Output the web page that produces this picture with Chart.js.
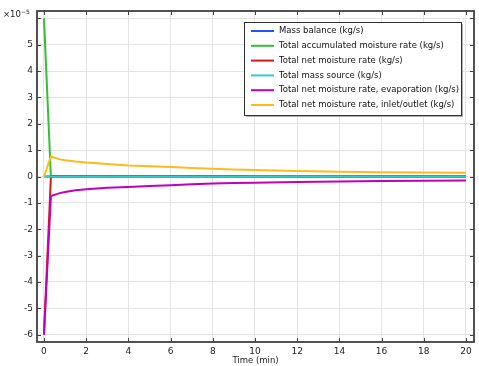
<!DOCTYPE html>
<html>
<head>
<meta charset="utf-8">
<script src="https://cdn.jsdelivr.net/npm/chart.js@4"></script>
<style>html,body{margin:0;padding:0;background:#fff}</style>
</head>
<body>
<canvas id="chart" width="479" height="366"></canvas>
<script>
// time (min) and series values in units of 1e-5 kg/s
const timeMin = [0, 0.33, 0.75, 1, 1.5, 2, 3, 4, 5, 6, 7, 8, 9, 10, 12, 14, 16, 18, 20];
const massBalance = [0, 0, 0, 0, 0, 0, 0, 0, 0, 0, 0, 0, 0, 0, 0, 0, 0, 0, 0];
const accumulated = [6.0, -0.02, -0.02, -0.02, -0.02, -0.02, -0.02, -0.02, -0.02, -0.02, -0.02, -0.02, -0.02, -0.02, -0.02, -0.02, -0.02, -0.02, -0.02];
const netMoisture = [-6.0, 0.02, 0.02, 0.02, 0.02, 0.02, 0.02, 0.02, 0.02, 0.02, 0.02, 0.02, 0.02, 0.01, 0.01, 0.01, 0.01, 0.01, 0.01];
const massSource = [0, 0, 0, 0, 0, 0, 0, 0, 0, 0, 0, 0, 0, 0, 0, 0, 0, 0, 0];
const evaporation = [-6.0, -0.74, -0.63, -0.59, -0.52, -0.48, -0.43, -0.40, -0.36, -0.33, -0.29, -0.27, -0.25, -0.24, -0.21, -0.19, -0.17, -0.16, -0.15];
const inletOutlet = [0, 0.76, 0.65, 0.62, 0.57, 0.53, 0.47, 0.42, 0.39, 0.36, 0.32, 0.29, 0.27, 0.25, 0.21, 0.18, 0.16, 0.15, 0.14];

const seriesNames = [
  'Mass balance (kg/s)',
  'Total accumulated moisture rate (kg/s)',
  'Total net moisture rate (kg/s)',
  'Total mass source (kg/s)',
  'Total net moisture rate, evaporation (kg/s)',
  'Total net moisture rate, inlet/outlet (kg/s)'
];
const seriesColors = ['#2a4fff', '#33c033', '#d41a1a', '#33cccc', '#c000c0', '#ffbb1a'];
const xTicks = [0, 2, 4, 6, 8, 10, 12, 14, 16, 18, 20];
const yTicks = [-6, -5, -4, -3, -2, -1, 0, 1, 2, 3, 4, 5, 6];

const FONT = 'DejaVu Sans';
const allSeries = [massBalance, accumulated, netMoisture, massSource, evaporation, inletOutlet];

const datasets = allSeries.map((vals, i) => ({
  label: seriesNames[i],
  data: timeMin.map((t, k) => ({ x: t, y: vals[k] })),
  borderColor: seriesColors[i],
  backgroundColor: seriesColors[i],
  borderWidth: 2,
  pointRadius: 0,
  tension: 0,
  fill: false,
  order: allSeries.length - i
}));

// frame box, inward ticks, exponent label and legend
const decorations = {
  id: 'decorations',
  afterDatasetsDraw(chart) {
    const { ctx, chartArea: a, scales } = chart;
    ctx.save();
    ctx.strokeStyle = '#404040';
    ctx.lineWidth = 1;
    xTicks.forEach(v => {
      const px = Math.round(scales.x.getPixelForValue(v)) + 0.5;
      ctx.beginPath();
      ctx.moveTo(px, a.bottom); ctx.lineTo(px, a.bottom - 4);
      ctx.moveTo(px, a.top); ctx.lineTo(px, a.top + 4);
      ctx.stroke();
    });
    yTicks.forEach(v => {
      const py = Math.round(scales.y.getPixelForValue(v)) + 0.5;
      ctx.beginPath();
      ctx.moveTo(a.left, py); ctx.lineTo(a.left + 4, py);
      ctx.moveTo(a.right, py); ctx.lineTo(a.right - 4, py);
      ctx.stroke();
    });
    ctx.lineWidth = 1.8;
    ctx.strokeRect(a.left, a.top, a.right - a.left, a.bottom - a.top);

    // exponent
    ctx.fillStyle = '#222';
    ctx.textBaseline = 'middle';
    ctx.font = '8.5px "' + FONT + '"';
    ctx.fillText('×10', 3, 15);
    const w = ctx.measureText('×10').width;
    ctx.font = '6px "' + FONT + '"';
    ctx.fillText('−5', 3 + w, 12);

    // legend
    const lx = 244, ly = 22, lw = 217, lh = 93;
    ctx.fillStyle = '#b0b0b0';
    ctx.fillRect(lx + 2, ly + 2, lw, lh);
    ctx.fillStyle = '#fff';
    ctx.fillRect(lx, ly, lw, lh);
    ctx.strokeStyle = '#303030';
    ctx.lineWidth = 1;
    ctx.strokeRect(lx + 0.5, ly + 0.5, lw, lh);
    ctx.font = '8.5px "' + FONT + '"';
    chart.data.datasets.forEach((ds, i) => {
      const y = ly + 9 + i * 14.8;
      ctx.strokeStyle = ds.borderColor;
      ctx.lineWidth = 2;
      ctx.beginPath();
      ctx.moveTo(lx + 7, y); ctx.lineTo(lx + 30, y);
      ctx.stroke();
      ctx.fillStyle = '#111';
      ctx.fillText(ds.label, lx + 35, y);
    });
    ctx.restore();
  }
};

new Chart(document.getElementById('chart'), {
  type: 'line',
  data: { datasets: datasets },
  options: {
    responsive: false,
    animation: false,
    layout: { padding: { top: 11, right: 5, left: 0, bottom: 0 } },
    plugins: { legend: { display: false }, tooltip: { enabled: false } },
    scales: {
      x: {
        type: 'linear',
        min: -0.33,
        max: 20.38,
        afterBuildTicks: s => { s.ticks = xTicks.map(v => ({ value: v })); },
        afterFit: s => { s.height = 24; },
        border: { display: false },
        grid: { color: '#e4e4e4', drawTicks: false },
        ticks: { padding: 4, color: '#222', font: { family: FONT, size: 9 } },
        title: { display: true, text: 'Time (min)', color: '#222', padding: { top: 0, bottom: 0 }, font: { family: FONT, size: 8.5 } }
      },
      y: {
        type: 'linear',
        min: -6.28,
        max: 6.28,
        afterBuildTicks: s => { s.ticks = yTicks.map(v => ({ value: v })); },
        afterFit: s => { s.width = 37; },
        border: { display: false },
        grid: { color: '#e4e4e4', drawTicks: false },
        ticks: {
          padding: 4,
          color: '#222',
          font: { family: FONT, size: 9 },
          callback: v => (v === 6 ? '' : String(v))
        }
      }
    }
  },
  plugins: [decorations]
});
</script>
</body>
</html>
